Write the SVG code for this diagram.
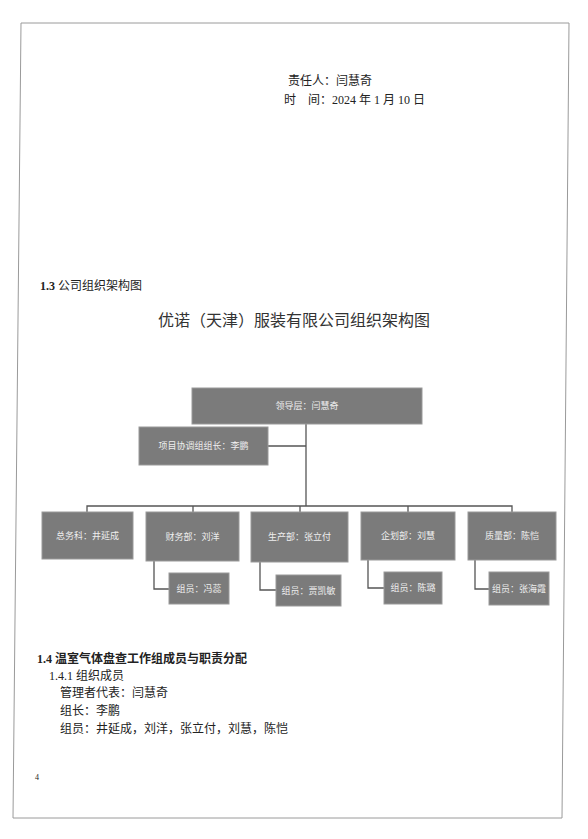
<svg xmlns="http://www.w3.org/2000/svg" width="588" height="839" viewBox="0 0 588 839">
<style>
.t{font-family:"Liberation Serif","Noto Sans CJK SC",serif;fill:#222;font-size:12px}
.b{font-weight:bold}
.box rect{fill:#7b7b7b;stroke:#9a9a9a;stroke-width:1}
.box text{font-family:"Liberation Serif","Noto Sans CJK SC",serif;font-size:9px;fill:#eeeeee;text-anchor:middle;dominant-baseline:central}
.ln{fill:none;stroke:#555;stroke-width:1.3}
</style>
<rect width="588" height="839" fill="#fff"/>
<polygon points="21,23 569,23 562,818 13,818" fill="none" stroke="#9a9a9a" stroke-width="1"/>
<text class="t" x="288" y="85">责任人：闫慧奇</text>
<text class="t" x="284" y="104">时　间：2024 年 1 月 10 日</text>
<text class="t" x="40" y="290"><tspan class="b">1.3</tspan> 公司组织架构图</text>
<text class="t" x="158" y="326" style="font-size:16px;fill:#333">优诺（天津）服装有限公司组织架构图</text>
<g id="connectors">
<path class="ln" d="M306,424 V506"/>
<path class="ln" d="M268,446 H306"/>
<path class="ln" d="M87,512 V506 H512 V512"/>
<path class="ln" d="M193,506 V512 M300,506 V512 M408,506 V512"/>
<path class="ln" d="M154,561 V589 H169"/>
<path class="ln" d="M260,562 V590 H276"/>
<path class="ln" d="M368,560 V588 H384"/>
<path class="ln" d="M475,560 V589 H489"/>
</g>
<g id="n-lead" class="box"><rect x="192" y="388" width="230" height="36"/><text x="307" y="406">领导层：闫慧奇</text></g>
<g id="n-proj" class="box"><rect x="139" y="427" width="129" height="38"/><text x="203.5" y="446">项目协调组组长：李鹏</text></g>
<g id="n-zwk" class="box"><rect x="42" y="512" width="91" height="47"/><text x="87.5" y="535.5">总务科：井延成</text></g>
<g id="n-cwb" class="box"><rect x="146" y="512" width="93" height="49"/><text x="192.5" y="536.5">财务部：刘洋</text></g>
<g id="n-scb" class="box"><rect x="251" y="512" width="97" height="50"/><text x="299.5" y="537">生产部：张立付</text></g>
<g id="n-qhb" class="box"><rect x="361" y="512" width="94" height="48"/><text x="408" y="536">企划部：刘慧</text></g>
<g id="n-zlb" class="box"><rect x="468" y="512" width="88" height="48"/><text x="512" y="536">质量部：陈恺</text></g>
<g id="n-s1" class="box"><rect x="169" y="573" width="60" height="31"/><text x="199" y="588.5">组员：冯蕊</text></g>
<g id="n-s2" class="box"><rect x="276" y="575" width="65" height="31"/><text x="308.5" y="590.5">组员：贾凯敏</text></g>
<g id="n-s3" class="box"><rect x="384" y="572" width="58" height="32"/><text x="413" y="588">组员：陈璐</text></g>
<g id="n-s4" class="box"><rect x="489" y="572" width="60" height="33"/><text x="519" y="588.5">组员：张海霞</text></g>
<text class="t" x="37" y="663"><tspan class="b">1.4</tspan> <tspan class="b">温室气体盘查工作组成员与职责分配</tspan></text>
<text class="t" x="49" y="680">1.4.1 组织成员</text>
<text class="t" x="60" y="697">管理者代表：闫慧奇</text>
<text class="t" x="60" y="715">组长：李鹏</text>
<text class="t" x="60" y="733">组员：井延成，刘洋，张立付，刘慧，陈恺</text>
<text class="t" x="35" y="780" style="font-size:8px">4</text>
</svg>
